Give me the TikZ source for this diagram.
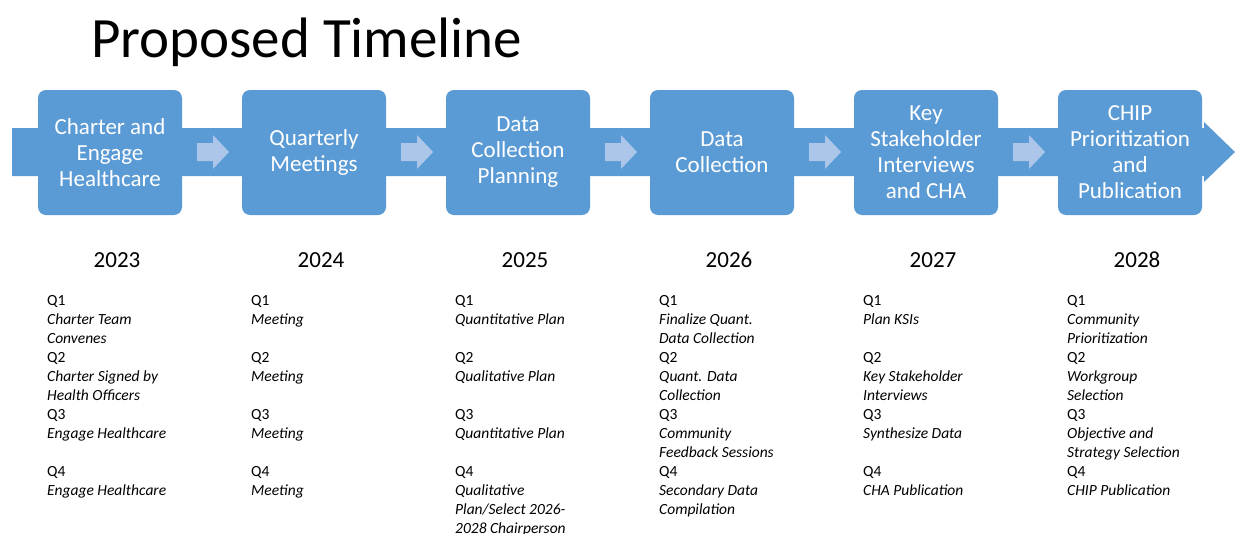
\documentclass[tikz,border=0pt]{standalone}
\usepackage{fontspec}
\setmainfont{Carlito}
\definecolor{boxblue}{HTML}{5B9BD5}
\definecolor{arrowlight}{HTML}{ABC6E8}
\begin{document}
\begin{tikzpicture}[x=1pt,y=-1pt,
  stage/.style={fill=boxblue, rounded corners=8pt, minimum width=144pt, minimum height=125pt,
    inner sep=0pt, align=center, text=white, font=\fontsize{23}{26}\selectfont},
  year/.style={font=\fontsize{23}{26}\selectfont, anchor=base},
  qcol/.style={anchor=north west, inner sep=0pt, align=left, font=\fontsize{15.5}{19}\selectfont},
  title/.style={font=\fontsize{57}{60}\selectfont, anchor=base west, inner sep=0pt}]
\useasboundingbox (0,0) rectangle (1236,533);
\fill[white] (0,0) rectangle (1236,533);
\node[title] (title) at (91,57) {Proposed Timeline};
% band
\fill[boxblue] (12,128) -- (1204,128) -- (1204,122) -- (1235,152) -- (1204,182) -- (1204,176) -- (12,176) -- cycle;
% stages
\node[stage] (s1) at (110,152.5) {Charter and\\Engage\\Healthcare};
\node[stage] (s2) at (314,152.5) {Quarterly\\Meetings};
\node[stage] (s3) at (518,152.5) {Data\\Collection\\Planning};
\node[stage] (s4) at (722,152.5) {Data\\Collection};
\node[stage] (s5) at (926,152.5) {Key\\Stakeholder\\Interviews\\and CHA};
\node[stage] (s6) at (1130,152.5) {CHIP\\Prioritization\\and\\Publication};
% small arrows
\foreach \i in {0,...,4}{
  \pgfmathsetmacro{\xa}{197+204*\i}
  \fill[arrowlight] (\xa,143) -- (\xa+16,143) -- (\xa+16,135) -- (\xa+32,152) -- (\xa+16,169) -- (\xa+16,161) -- (\xa,161) -- cycle;
}
% years
\node[year] (y1) at (117,267) {2023};
\node[year] (y2) at (321,267) {2024};
\node[year] (y3) at (525,267) {2025};
\node[year] (y4) at (729,267) {2026};
\node[year] (y5) at (933,267) {2027};
\node[year] (y6) at (1137,267) {2028};
% quarter columns
\node[qcol] (c1) at (47,295) {Q1\\\textit{Charter Team}\\\textit{Convenes}\\Q2\\\textit{Charter Signed by}\\\textit{Health Officers}\\Q3\\\textit{Engage Healthcare}\\\mbox{}\\Q4\\\textit{Engage Healthcare}};
\node[qcol] (c2) at (251,295) {Q1\\\textit{Meeting}\\\mbox{}\\Q2\\\textit{Meeting}\\\mbox{}\\Q3\\\textit{Meeting}\\\mbox{}\\Q4\\\textit{Meeting}};
\node[qcol] (c3) at (455,295) {Q1\\\textit{Quantitative Plan}\\\mbox{}\\Q2\\\textit{Qualitative Plan}\\\mbox{}\\Q3\\\textit{Quantitative Plan}\\\mbox{}\\Q4\\\textit{Qualitative}\\\textit{Plan/Select 2026-}\\\textit{2028 Chairperson}};
\node[qcol] (c4) at (659,295) {Q1\\\textit{Finalize Quant.}\\\textit{Data Collection}\\Q2\\\textit{Quant. Data}\\\textit{Collection}\\Q3\\\textit{Community}\\\textit{Feedback Sessions}\\Q4\\\textit{Secondary Data}\\\textit{Compilation}};
\node[qcol] (c5) at (863,295) {Q1\\\textit{Plan KSIs}\\\mbox{}\\Q2\\\textit{Key Stakeholder}\\\textit{Interviews}\\Q3\\\textit{Synthesize Data}\\\mbox{}\\Q4\\\textit{CHA Publication}};
\node[qcol] (c6) at (1067,295) {Q1\\\textit{Community}\\\textit{Prioritization}\\Q2\\\textit{Workgroup}\\\textit{Selection}\\Q3\\\textit{Objective and}\\\textit{Strategy Selection}\\Q4\\\textit{CHIP Publication}};
\end{tikzpicture}
\end{document}
